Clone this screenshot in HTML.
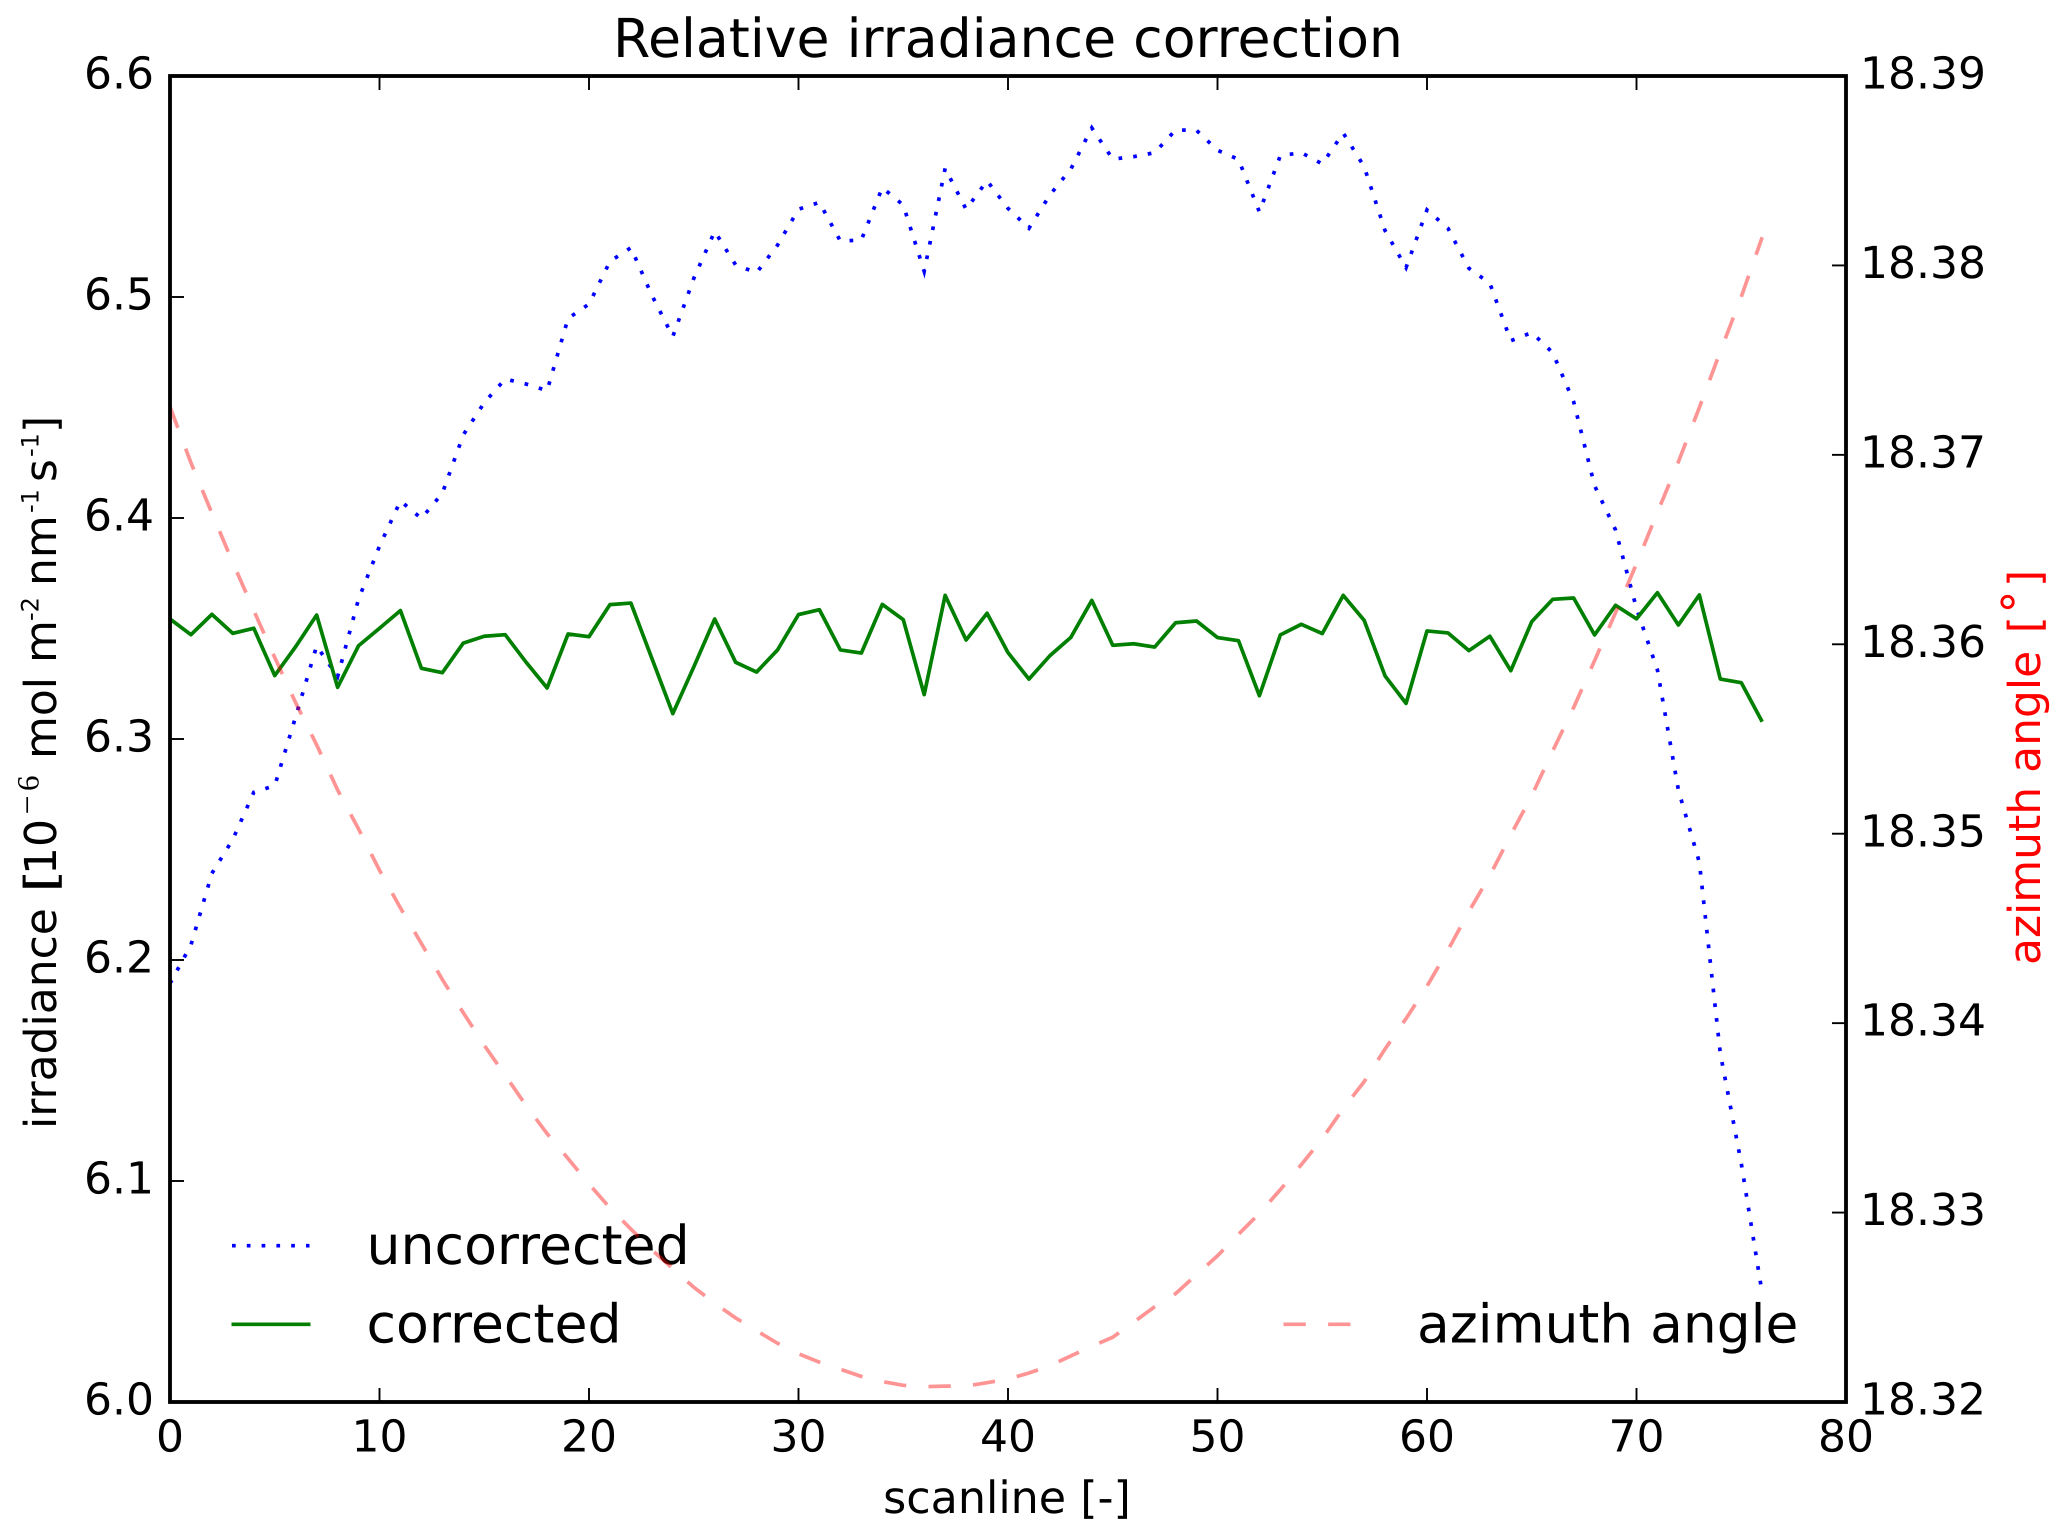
<!DOCTYPE html>
<html lang="en">
<head>
<meta charset="utf-8">
<title>Relative irradiance correction</title>
<style>
html,body{margin:0;padding:0;background:#fff;}
svg{display:block;}
text{font-family:"DejaVu Sans","Liberation Sans",sans-serif;fill:#000;text-rendering:geometricPrecision;}
</style>
</head>
<body>
<svg id="chart" xmlns="http://www.w3.org/2000/svg" width="2067" height="1539" viewBox="0 0 2067 1539">
  <rect x="0" y="0" width="2067" height="1539" fill="#fff"/>
  <g id="plot-left"></g>
  <g id="axes-left"></g>
  <g>
    <line x1="232" x2="309.5" y1="1245.7" y2="1245.7" stroke="#0000ff" stroke-width="3.7" stroke-dasharray="3.7 11.1"/>
    <text x="366.5" y="1264" font-size="53.7">uncorrected</text>
    <line x1="231.5" x2="310.5" y1="1324.3" y2="1324.3" stroke="#007f00" stroke-width="3.7"/>
    <text x="366.5" y="1342.7" font-size="53.7">corrected</text>
  </g>
  <g id="plot-right"></g>
  <g id="axes-right"></g>
  <g>
    <line x1="1283.5" x2="1350.5" y1="1324.3" y2="1324.3" stroke="#ff0000" stroke-opacity="0.42" stroke-width="3.7" stroke-dasharray="22.3 22.3"/>
    <text x="1417" y="1342.7" font-size="53.4">azimuth angle</text>
  </g>
  <text x="1008" y="57" font-size="53.7" text-anchor="middle">Relative irradiance correction</text>
  <text x="1007" y="1513" font-size="44.4" text-anchor="middle">scanline [-]</text>
  <g>
    <text transform="translate(56 1129) rotate(-90)" font-size="44">irradiance</text>
    <text transform="translate(56 893) rotate(-90) scale(1.4 1)" font-size="44">[</text>
    <text transform="translate(56 875) rotate(-90)" font-size="44">10</text>
    <text transform="translate(38.3 814.5) rotate(-90)" font-size="34" style="font-family:'Liberation Serif',serif">−</text>
    <text transform="translate(38.3 791) rotate(-90)" font-size="31" style="font-family:'Liberation Serif',serif">6</text>
    <text transform="translate(56 759) rotate(-90)" font-size="44">mol m</text>
    <text transform="translate(38.5 621) rotate(-90)" font-size="24">-2</text>
    <text transform="translate(56 586) rotate(-90)" font-size="44">nm</text>
    <text transform="translate(38.5 513) rotate(-90)" font-size="24">-1</text>
    <text transform="translate(56 482) rotate(-90)" font-size="44">s</text>
    <text transform="translate(38.5 457) rotate(-90)" font-size="24">-1</text>
    <text transform="translate(56 433) rotate(-90)" font-size="44">]</text>
  </g>
  <g>
    <text transform="translate(2040 965) rotate(-90)" font-size="44" style="fill:#ff0000">azimuth angle</text>
    <text transform="translate(2040 633.3) rotate(-90)" font-size="44" style="fill:#ff0000">[</text>
    <text transform="translate(2022 602) rotate(-90)" font-size="46" text-anchor="middle" style="fill:#ff0000">∘</text>
    <text transform="translate(2040 587) rotate(-90)" font-size="44" style="fill:#ff0000">]</text>
  </g>
</svg>
<script>
var uncorrected = [6.1894,6.2068,6.2392,6.2546,6.2759,6.2789,6.3101,6.3421,6.3282,6.3633,
6.3873,6.4077,6.3998,6.4112,6.4376,6.4522,6.4629,6.4606,6.4576,6.4903,
6.4968,6.5161,6.5223,6.5008,6.4821,6.5084,6.5297,6.5145,6.5110,6.5235,
6.5397,6.5428,6.5253,6.5258,6.5495,6.5416,6.5116,6.5582,6.5397,6.5526,
6.5401,6.5311,6.5462,6.5579,6.5765,6.5624,6.5635,6.5653,6.5756,6.5754,
6.5664,6.5623,6.5385,6.5640,6.5653,6.5602,6.5742,6.5590,6.5300,6.5133,
6.5394,6.5311,6.5130,6.5062,6.4802,6.4839,6.4748,6.4526,6.4146,6.3946,
6.3591,6.3312,6.2769,6.2442,6.1578,6.1080,6.0492];
var corrected = [6.3543,6.3472,6.3564,6.3478,6.3501,6.3287,6.3418,6.3561,6.3234,6.3422,
6.3501,6.3581,6.3320,6.3300,6.3434,6.3465,6.3472,6.3347,6.3231,6.3475,
6.3463,6.3608,6.3615,6.3365,6.3115,6.3326,6.3543,6.3347,6.3303,6.3403,
6.3563,6.3585,6.3403,6.3389,6.3609,6.3540,6.3201,6.3650,6.3448,6.3569,
6.3391,6.3271,6.3377,6.3460,6.3627,6.3424,6.3431,6.3416,6.3526,6.3534,
6.3459,6.3445,6.3196,6.3471,6.3519,6.3477,6.3650,6.3537,6.3285,6.3161,
6.3489,6.3480,6.3400,6.3465,6.3309,6.3531,6.3632,6.3638,6.3471,6.3605,
6.3544,6.3662,6.3516,6.3652,6.3271,6.3255,6.3078];
var azimuth = [18.37253,18.36958,18.36692,18.36431,18.36178,18.35930,18.35691,18.35469,18.35231,18.35025,
18.34807,18.34608,18.34420,18.34230,18.34055,18.33883,18.33725,18.33564,18.33417,18.33285,
18.33151,18.33024,18.32913,18.32803,18.32704,18.32606,18.32521,18.32444,18.32376,18.32310,
18.32255,18.32210,18.32173,18.32135,18.32108,18.32088,18.32081,18.32084,18.32084,18.32102,
18.32121,18.32153,18.32192,18.32243,18.32294,18.32342,18.32421,18.32503,18.32572,18.32672,
18.32772,18.32885,18.32996,18.33121,18.33253,18.33390,18.33549,18.33691,18.33864,18.34024,
18.34195,18.34386,18.34589,18.34779,18.34994,18.35201,18.35437,18.35666,18.35914,18.36167,
18.36425,18.36697,18.36963,18.37250,18.37545,18.37834,18.38149];
var xTicks = [0,10,20,30,40,50,60,70,80];
var leftTicks = [6.0,6.1,6.2,6.3,6.4,6.5,6.6];
var rightTicks = [18.32,18.33,18.34,18.35,18.36,18.37,18.38,18.39];

var SVGNS = 'http://www.w3.org/2000/svg';
var plotLeft = 170, plotRight = 1846, plotTop = 76, plotBottom = 1402;
function xScale(v){ return plotLeft + (v - 0) / (80 - 0) * (plotRight - plotLeft); }
function yLeft(v){ return plotBottom - (v - 6.0) / (6.6 - 6.0) * (plotBottom - plotTop); }
function yRight(v){ return plotBottom - (v - 18.32) / (18.39 - 18.32) * (plotBottom - plotTop); }
function make(tag, parent, attrs){
  var el = document.createElementNS(SVGNS, tag);
  for (var k in attrs) el.setAttribute(k, attrs[k]);
  parent.appendChild(el);
  return el;
}
function points(values, yFn){
  return values.map(function(v, i){ return xScale(i).toFixed(2) + ',' + yFn(v).toFixed(2); }).join(' ');
}
function frame(parent){
  var r = make('rect', parent, {x:plotLeft, y:plotTop, width:plotRight-plotLeft, height:plotBottom-plotTop, fill:'none', stroke:'#000', 'stroke-width':3.6});
  
  
}

var gL = document.getElementById('plot-left');
var gR = document.getElementById('plot-right');
var aL = document.getElementById('axes-left');
var aR = document.getElementById('axes-right');

var blue = make('polyline', gL, {points:points(uncorrected, yLeft), fill:'none', stroke:'#0000ff', 'stroke-width':3.7, 'stroke-dasharray':'3.7 11.1'});



var green = make('polyline', gL, {points:points(corrected, yLeft), fill:'none', stroke:'#007f00', 'stroke-width':3.7, 'stroke-linejoin':'round'});



var red = make('polyline', gR, {points:points(azimuth, yRight), fill:'none', stroke:'#ff0000', 'stroke-opacity':0.42, 'stroke-width':3.7, 'stroke-dasharray':'22.3 22.3'});



xTicks.forEach(function(t){
  var x = xScale(t);
  var b = make('line', aL, {x1:x, x2:x, y1:plotBottom, y2:plotBottom-14, stroke:'#000', 'stroke-width':1.9});
  
  
  var u = make('line', aL, {x1:x, x2:x, y1:plotTop, y2:plotTop+14, stroke:'#000', 'stroke-width':1.9});
  
  
  var l = make('text', aL, {x:x, y:1451.7, 'font-size':44, 'text-anchor':'middle'});
  
  
  l.textContent = String(t);
});
leftTicks.forEach(function(t){
  var y = yLeft(t);
  var k = make('line', aL, {x1:plotLeft, x2:plotLeft+14, y1:y, y2:y, stroke:'#000', 'stroke-width':1.9});
  
  
  var l = make('text', aL, {x:154, y:y+12.6, 'font-size':44, 'text-anchor':'end'});
  
  
  l.textContent = t.toFixed(1);
});
frame(aL);
rightTicks.forEach(function(t){
  var y = yRight(t);
  var k = make('line', aR, {x1:plotRight, x2:plotRight-14, y1:y, y2:y, stroke:'#000', 'stroke-width':1.9});
  
  
  var l = make('text', aR, {x:1860, y:y+12.6, 'font-size':44});
  
  
  l.textContent = t.toFixed(2);
});
frame(aR);
</script>
</body>
</html>
